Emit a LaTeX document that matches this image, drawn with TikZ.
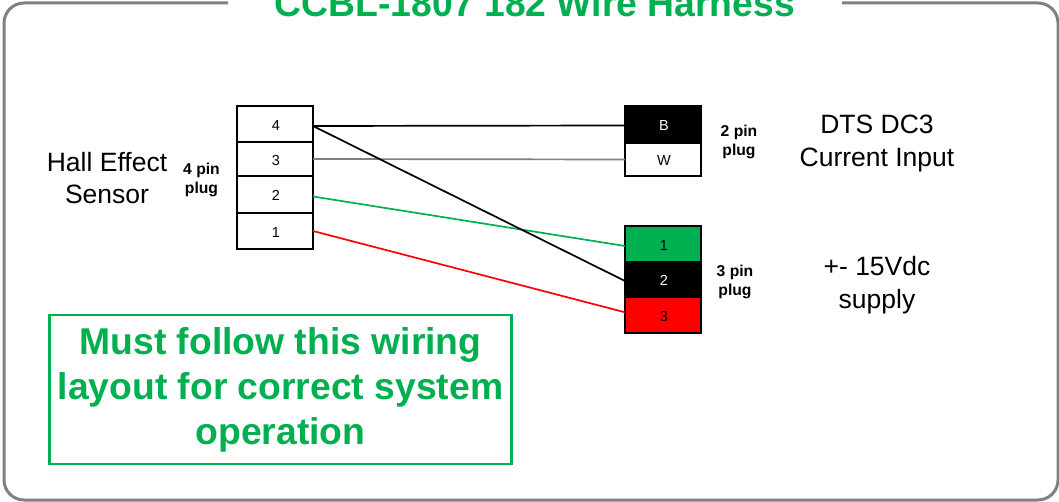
\documentclass[tikz,border=0pt]{standalone}
\usepackage{fontspec}
\setmainfont{Liberation Sans}
\definecolor{grn}{HTML}{00B050}
\definecolor{frm}{HTML}{808080}
\tikzset{
  x=1pt,y=-1pt,
  pin/.style={draw=black,line width=1.3pt,minimum width=76pt,inner sep=0pt,font=\fontsize{14.5}{16}\selectfont,anchor=north west,outer sep=0pt,text depth=0pt,text height=13pt,execute at begin node=\hspace*{2pt}},
  lab/.style={align=center,font=\fontsize{26.5}{32.5}\selectfont,inner sep=0pt},
  plug/.style={align=center,font=\bfseries\fontsize{15.7}{19}\selectfont,inner sep=0pt},
  wire/.style={line width=1.7pt},
}
\begin{document}
\begin{tikzpicture}
\useasboundingbox (0,0) rectangle (1059,502);
\fill[white] (0,0) rectangle (1059,502);
\coordinate (fa) at (228,3);
\coordinate (fb) at (842,3);
\draw[frm,line width=3pt] (fa) -- (24,3) .. controls (13,3) and (4,12) .. (4,23) -- (4,480) .. controls (4,491) and (13,500) .. (24,500) -- (1038,500) .. controls (1049,500) and (1058,491) .. (1058,480) -- (1058,23) .. controls (1058,12) and (1049,3) .. (1038,3) -- (fb);
\node[font=\bfseries\fontsize{37.3}{40}\selectfont,text=grn,inner sep=0pt,anchor=base] (title) at (535,16.5) {CCBL-1807 182 Wire Harness};
\node[pin,minimum height=36pt] (l4) at (237,106) {4};
\node[pin,minimum height=34pt] (l3) at (237,142) {3};
\node[pin,minimum height=37pt] (l2) at (237,176) {2};
\node[pin,minimum height=36pt] (l1) at (237,213) {1};
\node[pin,minimum height=37pt,fill=black,text=white] (rb) at (625,106) {B};
\node[pin,minimum height=33pt] (rw) at (625,143) {W};
\node[pin,minimum height=36pt,fill=grn] (r1) at (625,226) {1};
\node[pin,minimum height=35pt,fill=black,text=white] (r2) at (625,262) {2};
\node[pin,minimum height=36pt,fill=red] (r3) at (625,297) {3};
\draw[wire,black] ([yshift=-2pt]l4.east) -- ([yshift=-1pt]rb.west);
\draw[wire,frm] (l3.east) -- (rw.west);
\draw[wire,grn] ([yshift=-2pt]l2.east) -- ([yshift=-2pt]r1.west);
\draw[wire,red] (l1.east) -- ([yshift=2.7pt]r3.west);
\draw[wire,black] ([yshift=-2pt]l4.east) -- ([yshift=-1.5pt]r2.west);
\node[lab] (hall) at (107,178) {Hall Effect\\Sensor};
\node[lab] (dts) at (877,143.5) {DTS DC3\\Current Input};
\node[lab] (sup) at (877,285) {+- 15Vdc\\supply};
\node[plug] (p4) at (201.5,180) {4 pin\\plug};
\node[plug] (p2) at (739,141.5) {2 pin\\plug};
\node[plug] (p3) at (735,282) {3 pin\\plug};
\node[draw=grn,line width=2.6pt,minimum width=462pt,minimum height=149pt,inner sep=0pt,text=grn,align=center,font=\bfseries\fontsize{37.3}{45}\selectfont] (note) at (280.5,389.5) {Must follow this wiring\\layout for correct system\\operation};
\end{tikzpicture}
\end{document}
